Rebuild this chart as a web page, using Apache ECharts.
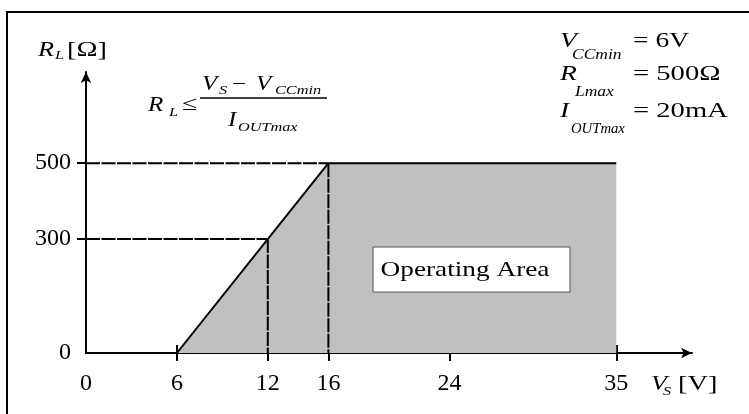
<!DOCTYPE html>
<html>
<head>
<meta charset="utf-8">
<script src="https://cdn.jsdelivr.net/npm/echarts@6/dist/echarts.min.js"></script>
<style>
  html, body { margin: 0; padding: 0; background: #fff; }
  #chart { width: 749px; height: 414px; }
</style>
</head>
<body>
<div id="chart"></div>
<script>
// 横轴 V_S 和纵轴 R_L 的刻度
const vsTicks = [0, 6, 12, 16, 24, 35]
const rlTicks = [0, 300, 500]
// 工作区边界: (6,0) -> (16,500) -> (35,500)
const areaVs = [6, 16, 35]
const areaRl = [0, 500, 500]
// 虚线辅助线
const guideVs = [12, 16]
const guideRl = [300, 500]

const SERIF = '"Liberation Serif", "Times New Roman", serif'

// 小工具: 生成文字元素 (原图横向略有拉伸, 用 scaleX 模拟)
function txt(x, y, text, size, italic, sx) {
  return {
    type: 'text',
    z: 100,
    x: x, y: y,
    scaleX: sx || 1.25,
    style: {
      text: text,
      font: (italic ? 'italic ' : '') + size + 'px ' + SERIF,
      fill: '#000',
      verticalAlign: 'middle'
    }
  }
}

const chart = echarts.init(document.getElementById('chart'))
const dash = [14, 1.5]
const guideSeries = []
guideVs.forEach((v, i) => {
  guideSeries.push({
    type: 'line', symbol: 'none', silent: true,
    lineStyle: { color: '#000', width: 2, type: dash },
    data: [[0, guideRl[i]], [v, guideRl[i]]]
  })
  guideSeries.push({
    type: 'line', symbol: 'none', silent: true,
    lineStyle: { color: '#000', width: 2, type: dash },
    data: [[v, guideRl[i]], [v, 0]]
  })
})

const axisCommon = {
  type: 'value',
  min: 0,
  max: 40,
  splitLine: { show: false },
  axisLine: { show: false }
}

const option = {
  animation: false,
  backgroundColor: '#fff',
  grid: { left: 86, right: 57, top: 72, bottom: 61 },
  xAxis: [
    Object.assign({}, axisCommon, {
      axisLine: {
        show: true, onZero: false,
        symbol: ['none', 'arrow'], symbolSize: [8, 11],
        lineStyle: { color: '#000', width: 2 }
      },
      axisTick: { show: true, inside: true, length: 8, customValues: vsTicks.slice(1), lineStyle: { color: '#000', width: 2 } },
      axisLabel: { customValues: vsTicks, margin: 19, color: '#000', fontSize: 24, fontFamily: SERIF }
    }),
    // 第二条横轴只画朝下的刻度, 让刻度穿过轴线
    Object.assign({}, axisCommon, {
      axisTick: { show: true, inside: false, length: 8, customValues: vsTicks.slice(1), lineStyle: { color: '#000', width: 2 } },
      axisLabel: { show: false },
      position: 'bottom'
    })
  ],
  yAxis: {
    type: 'value',
    min: 0,
    max: 740,
    splitLine: { show: false },
    axisLine: {
      show: true, onZero: false,
      symbol: ['none', 'arrow'], symbolSize: [8, 11],
      lineStyle: { color: '#000', width: 2 }
    },
    axisTick: { show: true, length: 9, customValues: rlTicks.slice(1), lineStyle: { color: '#000', width: 2 } },
    axisLabel: { customValues: rlTicks, margin: 15, color: '#000', fontSize: 24, fontFamily: SERIF }
  },
  series: [
    {
      type: 'line', symbol: 'none', silent: true, z: 1,
      lineStyle: { color: '#000', width: 2 },
      areaStyle: { color: '#c0c0c0', opacity: 1 },
      data: areaVs.map((v, i) => [v, areaRl[i]])
    }
  ].concat(guideSeries),
  graphic: [
    {
      type: 'rect', z: 100,
      shape: { x: 7, y: 12, width: 800, height: 500 },
      style: { fill: 'none', stroke: '#000', lineWidth: 2 }
    },
    // Operating Area 方框
    {
      type: 'rect', z: 90,
      shape: { x: 373, y: 247, width: 197, height: 45 },
      style: { fill: '#fff', stroke: '#555', lineWidth: 1 }
    },
    {
      type: 'text', z: 100,
      x: 465, y: 270, scaleX: 1.24,
      style: {
        text: 'Operating Area',
        font: '22px ' + SERIF, fill: '#000',
        align: 'center', verticalAlign: 'middle'
      }
    },
    // 纵轴标题
    txt(38, 50, 'R', 21, true),
    txt(55, 56, 'L', 13, true),
    txt(67, 50, '[Ω]', 21, false, 1.35),
    // 横轴标题
    txt(651, 384, 'V', 21, true),
    txt(663, 392, 'S', 13, true),
    txt(678, 384, '[V]', 21, false, 1.35),
    // 公式
    txt(148, 106, 'R', 20, true),
    txt(169, 113, 'L', 13, true),
    txt(182, 105, '≤', 20, false, 1.4),
    txt(202, 85, 'V', 20, true),
    txt(219, 91, 'S', 13, true),
    txt(232, 85, '−', 20, false),
    txt(256, 85, 'V', 20, true),
    txt(275, 91, 'CCmin', 13, true),
    {
      type: 'line', z: 100,
      shape: { x1: 200, y1: 98, x2: 327, y2: 98 },
      style: { stroke: '#000', lineWidth: 1.5 }
    },
    txt(228, 121, 'I', 20, true),
    txt(238, 128, 'OUTmax', 13, true),
    // 右上角参数
    txt(560, 41, 'V', 22, true),
    txt(572, 55, 'CCmin', 14, true),
    txt(633, 41, '= 6V', 22, false),
    txt(560, 74, 'R', 22, true),
    txt(575, 92, 'Lmax', 14, true),
    txt(633, 74, '= 500Ω', 22, false, 1.3),
    txt(560, 111, 'I', 22, true),
    txt(571, 129, 'OUTmax', 14, true, 1.05),
    txt(633, 111, '= 20mA', 22, false, 1.3)
  ]
}
chart.setOption(option)
</script>
</body>
</html>
